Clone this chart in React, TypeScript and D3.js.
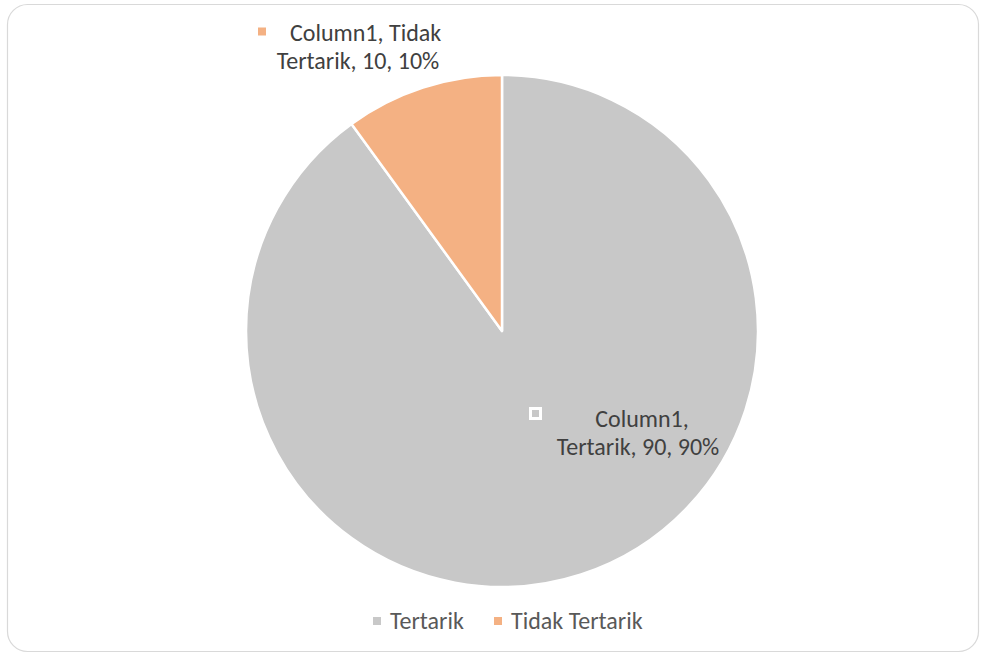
import React from "react";
import * as d3 from "d3";

const categories = ["Tertarik", "Tidak Tertarik"];
const values = [90, 10];
const percents = ["90%", "10%"];
const seriesName = "Column1";
const colors = ["#c8c8c8", "#f4b183"];

const W = 983;
const H = 656;

export default function App() {
  const cx = 502;
  const cy = 331;
  const r = 256;
  const pie = d3.pie<number>().sort(null).value((d) => d)(values);
  const arc = d3.arc<d3.PieArcDatum<number>>().innerRadius(0).outerRadius(r);
  const font = "Carlito, Calibri, Lato, sans-serif";
  const textColor = "#404040";
  const fs = 24;

  return (
    <svg
      width={W}
      height={H}
      style={{ position: "absolute", left: 0, top: 0 }}
      fontFamily={font}
    >
      <rect x={0} y={0} width={W} height={H} fill="#ffffff" />
      <rect
        x={7.5}
        y={4.5}
        width={971}
        height={647}
        rx={20}
        ry={20}
        fill="#ffffff"
        stroke="#d9d9d9"
        strokeWidth={1.2}
      />
      <g transform={`translate(${cx},${cy})`}>
        {pie.map((p, i) => (
          <path
            key={i}
            d={arc(p) || ""}
            fill={colors[i]}
            stroke="#ffffff"
            strokeWidth={2.5}
            strokeLinejoin="round"
          />
        ))}
      </g>
      {/* Data label: Tertarik */}
      <rect x={530.5} y={408.5} width={10} height={10} fill="none" stroke="#ffffff" strokeWidth={3} />
      <text x={642} y={427} textAnchor="middle" fontSize={fs} fill={textColor}>
        {`${seriesName},`}
      </text>
      <text x={638} y={455} textAnchor="middle" fontSize={fs} fill={textColor}>
        {`${categories[0]}, ${values[0]}, ${percents[0]}`}
      </text>
      {/* Data label: Tidak Tertarik */}
      <rect x={258} y={27.5} width={8} height={8} fill={colors[1]} />
      <text x={290} y={41} textAnchor="start" fontSize={fs} fill={textColor}>
        {`${seriesName}, Tidak`}
      </text>
      <text x={358} y={69} textAnchor="middle" fontSize={fs} fill={textColor}>
        {`Tertarik, ${values[1]}, ${percents[1]}`}
      </text>
      {/* Legend */}
      <rect x={373} y={617} width={8} height={8} fill={colors[0]} />
      <text x={390} y={629} fontSize={fs} fill="#595959">
        {categories[0]}
      </text>
      <rect x={494} y={617} width={8} height={8} fill={colors[1]} />
      <text x={511} y={629} fontSize={fs} fill="#595959">
        {categories[1]}
      </text>
    </svg>
  );
}
